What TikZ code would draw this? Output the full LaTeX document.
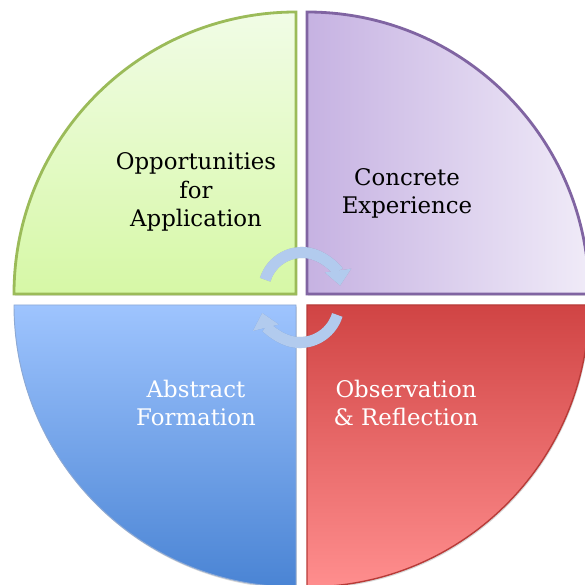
\documentclass[tikz,border=0pt]{standalone}
\usepackage{fontspec}
\setmainfont{DejaVu Serif}
\usetikzlibrary{arrows.meta,shadows}
\definecolor{greenline}{HTML}{9BBB59}
\definecolor{greentop}{HTML}{F1FCE6}
\definecolor{greenbottom}{HTML}{D6F8A6}
\definecolor{purpleline}{HTML}{8064A2}
\definecolor{purpleleft}{HTML}{C6B2E2}
\definecolor{purpleright}{HTML}{F0EBF8}
\definecolor{blueline}{HTML}{8DA9D4}
\definecolor{bluetop}{HTML}{9EC4FE}
\definecolor{bluebottom}{HTML}{4A84D4}
\definecolor{redline}{HTML}{B83B38}
\definecolor{redtop}{HTML}{D04444}
\definecolor{redbottom}{HTML}{FF8E8E}
\definecolor{cyclearrow}{HTML}{B2CBEE}
\begin{document}
\begin{tikzpicture}[x=0.03cm, y=0.03cm,
	quarter/.style={line join=miter, drop shadow={shadow xshift=0.8pt, shadow yshift=-1.4pt, opacity=0.3}},
	quadtext/.style={align=center, font=\fontsize{19.5}{24}\selectfont},
	cycle/.style={color=cyclearrow, line width=9.5pt, -{Triangle[width=22pt, length=13pt]}},
	cycleshadow/.style={cycle, color=black, opacity=0.18, shift={(1,-1.5)}}]
	\clip (0,0) rectangle (585,584);
	\fill[white] (0,0) rectangle (585,584);

	\draw[quarter, draw=greenline, line width=2.4pt, top color=greentop, bottom color=greenbottom] (296,290) -- (296,572) arc[start angle=90, end angle=180, radius=282] -- cycle;
	\draw[quarter, draw=purpleline, line width=2.4pt, left color=purpleleft, right color=purpleright] (307,290) -- (589,290) arc[start angle=0, end angle=90, radius=282] -- cycle;
	\draw[quarter, draw=blueline, line width=0.8pt, top color=bluetop, bottom color=bluebottom] (296,279) -- (14,279) arc[start angle=180, end angle=270, radius=282] -- cycle;
	\draw[quarter, draw=redline, line width=1.2pt, top color=redtop, bottom color=redbottom] (307,279) -- (307,-3) arc[start angle=270, end angle=360, radius=282] -- cycle;

	\node[quadtext] (apply) at (196,392) {Opportunities\\for\\Application};
	\node[quadtext] (concrete) at (407,391) {Concrete\\Experience};
	\node[quadtext, text=white] (abstract) at (196,181) {Abstract\\Formation};
	\node[quadtext, text=white] (observe) at (406,181) {Observation\\\& Reflection};

	\coordinate (upper) at (302,293);
	\coordinate (lower) at (300,280.5);
	\draw[cycleshadow] ([shift={(163:38.5)}]upper) arc[start angle=163, end angle=8, radius=38.5];
	\draw[cycleshadow] ([shift={(-17:39)}]lower) arc[start angle=-17, end angle=-166, radius=39];
	\draw[cycle] ([shift={(163:38.5)}]upper) arc[start angle=163, end angle=8, radius=38.5];
	\draw[cycle] ([shift={(-17:39)}]lower) arc[start angle=-17, end angle=-166, radius=39];
\end{tikzpicture}
\end{document}
